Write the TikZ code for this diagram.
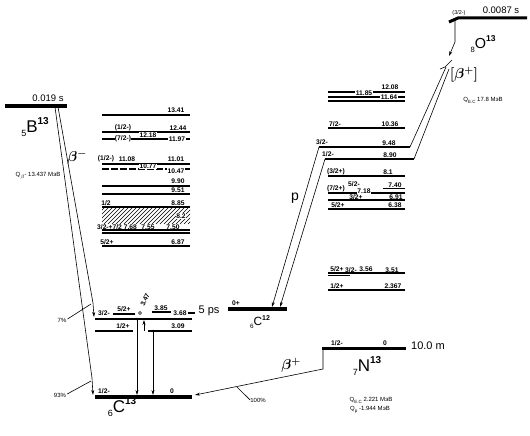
\documentclass[tikz,border=0pt]{standalone}
\usepackage{fontspec}
\setmainfont{Liberation Sans}
\usetikzlibrary{arrows.meta}
\newcommand{\nucl}[3]{{\fontsize{9}{9}\selectfont\raisebox{-4pt}{#1}}{\fontsize{17}{17}\selectfont #2}{\fontsize{10}{10}\selectfont\raisebox{8pt}{\bfseries #3}}}
\newcommand{\qsub}[1]{\raisebox{-2pt}{\fontsize{4.5}{5}\selectfont #1}}
\begin{document}
\begin{tikzpicture}[x=1pt,y=-1pt,
  lv/.style={line width=1.1pt},
  gsbar/.style={line width=3.5pt},
  lb/.style={font=\bfseries\fontsize{6.7}{7}\selectfont, inner sep=0.4pt},
  lbw/.style={lb, fill=white},
  sm/.style={font=\fontsize{6}{7}\selectfont, inner sep=0pt},
  big/.style={font=\fontsize{9.5}{10}\selectfont, inner sep=0pt},
  mid/.style={font=\fontsize{11}{12}\selectfont, inner sep=0pt},
  greek/.style={font=\fontsize{14}{14}\selectfont\boldmath, inner sep=0pt},
  tr/.style={line width=0.6pt},
  arr/.style={tr, -{Stealth[length=5pt,width=3pt]}}]
\useasboundingbox (0,0) rectangle (530,436);

% ---------- 5B13 ----------
\draw[gsbar] (5,106) -- (67,106);
\node[big] (tB) at (48,98) {0.019 s};
\node[inner sep=0] (nB) at (35,127) {\nucl{5}{B}{13}};
\node[sm] (qB) at (38,176) {Q\qsub{$\beta$}- 13.437 МэВ};
\node[greek] (bm) at (77,157) {$\beta^-$};
\coordinate (b1) at (55,107); \coordinate (b1m) at (92,378); \coordinate (b1e) at (93,395);
\coordinate (b2) at (58,107); \coordinate (b2m) at (93,303); \coordinate (b2e) at (94,317);
\draw[arr] (b1) -- (b1m) -- (b1e);
\draw[arr] (b2) -- (b2m) -- (b2e);
\node[sm] (p7) at (62,320) {7\%};
\node[sm] (p93) at (60,395) {93\%};
\coordinate (t7) at (91,304); \coordinate (t93) at (91,381);
\draw[tr] (p7.east) ++(1,-1) -- (t7);
\draw[tr] (p93.east) ++(1,-1) -- (t93);

% ---------- 13C ----------
\draw[gsbar] (95,397) -- (192,397);
\node[lb] (c0a) at (104,391) {1/2-};
\node[lb] (c0b) at (172,391) {0};
\node[inner sep=0] (nC13) at (122,407) {\nucl{6}{C}{13}};

\draw[lv] (95,319) -- (192,319);
\node[lb] (c1a) at (104,313) {3/2-};
\node[lb] (c1b) at (124,309.5) {5/2+};
\draw[lv] (113,314) -- (135,314);
\node[lb] (c1c) at (161,308) {3.85};
\draw[lv] (152,312) -- (171,312);
\node[lb] (c1d) at (180,313) {3.68};
\draw[lv] (188,313) -- (195,313);
\node[mid] (ps) at (209,311) {5 ps};
\node[lb, rotate=65] (c1e) at (145,300) {3.47};
\draw[tr] (140,313) circle (1.5);

\draw[lv] (95,331) -- (133,331);
\draw[lv] (148,331) -- (192,331);
\node[lb] (c2a) at (123,326) {1/2+};
\node[lb] (c2b) at (178,326) {3.09};

\coordinate (g1t) at (137,319); \coordinate (g1b) at (137,395);
\coordinate (g2t) at (153,331); \coordinate (g2b) at (153,395);
\coordinate (g3t) at (144,331); \coordinate (g3b) at (144,320);
\draw[arr] (g1t) -- (g1b); \fill (g1t) circle (1.3);
\draw[arr] (g2t) -- (g2b); \fill (g2t) circle (1.3);
\draw[arr] (g3t) -- (g3b);

% upper 13C levels
\draw[lv] (102,115) -- (190,115);
\node[lb] (u1) at (176,110) {13.41};
\draw[lv] (102,132) -- (190,132);
\draw[lv] (102,139) -- (190,139);
\node[lb] (u2a) at (123,128) {(1/2-)};
\node[lb] (u2b) at (178,128) {12.44};
\node[lbw] (u2c) at (148,135) {12.18};
\node[lbw] (u3a) at (123,139) {(7/2-)};
\node[lbw] (u3b) at (177,139) {11.97};
\draw[lv] (102,164) -- (190,164);
\draw[lv, dash pattern=on 7pt off 2pt] (102,169) -- (190,169);
\node[lb] (u4a) at (106,159) {(1/2-)};
\node[lb] (u4b) at (127,159) {11.08};
\node[lb] (u4c) at (176,159) {11.01};
\node[lbw] (u4d) at (148,166.5) {10.77};
\node[lbw] (u5) at (176,171) {10.47};
\draw[lv] (102,186) -- (190,186);
\node[lb] (u6) at (178,181) {9.90};
\draw[lv] (102,194) -- (190,194);
\node[lb] (u7) at (178,190) {9.51};
\draw[lv] (102,207) -- (190,207);
\node[lb] (u8a) at (106,203) {1/2};
\node[lb] (u8b) at (178,203) {8.85};
\begin{scope}
\clip (102,208) rectangle (190,224);
\foreach \i in {0,4,...,108} \draw[line width=0.6pt] (84+\i,224) -- (100+\i,208);
\end{scope}
\node[lbw] (u9) at (181,216) {8.2};
\node[lb] (u10a) at (117,227) {3/2-+7/2 7.68};
\node[lb] (u10b) at (148,227) {7.55};
\node[lb] (u10c) at (173,227) {7.50};
\draw[lv] (102,230) -- (190,230);
\draw[lv] (102,233) -- (190,233);
\draw[lv] (102,246) -- (190,246);
\node[lb] (u11a) at (107,242) {5/2+};
\node[lb] (u11b) at (178,242) {6.87};

% ---------- 12C ----------
\draw[gsbar] (228,309) -- (287,309);
\node[lb] (c12a) at (236,303) {0+};
\node[inner sep=0, scale=0.7] (nC12) at (260,322) {\nucl{6}{C}{12}};
\node[inner sep=0] (pp) at (295,198) {\fontsize{14}{14}\selectfont p};

% ---------- 13N ----------
\draw[line width=3pt] (322,348) -- (406,348);
\node[lb] (n0a) at (337,343) {1/2-};
\node[lb] (n0b) at (385,343) {0};
\node[mid] (tm) at (428,346) {10.0 m};
\node[inner sep=0] (nN) at (367,366) {\nucl{7}{N}{13}};
\node[sm] (qN1) at (371,400) {Q\qsub{E.C} 2.221 МэВ};
\node[sm] (qN2) at (370,410) {Q\qsub{p} -1.944 МэВ};

\draw[lv] (328,92) -- (405,92);
\draw[lv] (328,97) -- (405,97);
\draw[lv] (328,101) -- (405,101);
\node[lb] (m1a) at (390,87.5) {12.08};
\node[lbw] (m1b) at (364,93) {11.85};
\node[lbw] (m1c) at (389,97.5) {11.64};
\draw[lv] (328,128) -- (405,128);
\node[lb] (m2a) at (335,124) {7/2-};
\node[lb] (m2b) at (390,124) {10.36};
\node[lb] (m3a) at (322,142) {3/2-};
\node[lb] (m3b) at (389,143) {9.48};
\node[lb] (m4a) at (328,154) {1/2-};
\node[lb] (m4b) at (390,155) {8.90};
\coordinate (p1t) at (319,147); \coordinate (p1b) at (272,307);
\coordinate (p2t) at (325,159); \coordinate (p2b) at (280,307);
\coordinate (k1) at (410,147); \coordinate (k2) at (414,159);
\coordinate (o1) at (446,67); \coordinate (o2) at (449,69);
\draw[lv] (p1t) -- (k1); \draw[tr] (k1) -- (o1);
\draw[lv] (p2t) -- (k2); \draw[tr] (k2) -- (o2);
\draw[arr] (p1t) -- (p1b);
\draw[arr] (p2t) -- (p2b);
\draw[lv] (328,176) -- (405,176);
\node[lb] (m5a) at (336,172) {(3/2+)};
\node[lb] (m5b) at (388,172) {8.1};
\draw[lv] (383,188.5) -- (405,188.5);
\draw[lv] (328,193) -- (405,193);
\draw[lv] (328,200) -- (405,200);
\node[lb] (m6a) at (354,184) {5/2-};
\node[lb] (m6b) at (395,185) {7.40};
\node[lb] (m6c) at (336,189) {(7/2+)};
\node[lbw] (m6d) at (364,191) {7.18};
\node[lb] (m6e) at (356,197) {3/2+};
\node[lb] (m6f) at (396,197) {6.91};
\draw[lv] (328,209) -- (405,209);
\node[lb] (m7a) at (338,205) {5/2+};
\node[lb] (m7b) at (395,205) {6.38};
\draw[lv] (328,273) -- (405,273);
\draw[lv] (328,275.5) -- (350,275.5);
\node[lb] (m8a) at (337,269) {5/2+};
\node[lb] (m8b) at (351,270) {3/2-};
\node[lb] (m8c) at (366,269) {3.56};
\node[lb] (m8d) at (392,270) {3.51};
\draw[lv] (328,290) -- (405,290);
\node[lb] (m9a) at (337,286) {1/2+};
\node[lb] (m9b) at (393,286) {2.367};

% 13N -> 13C beta+
\coordinate (n1) at (323,348); \coordinate (n2) at (323,369); \coordinate (n3) at (195,395);
\draw[arr] (n1) -- (n2) -- (n3);
\node[greek] (bp) at (291,365) {$\beta^+$};
\node[sm] (p100) at (258,400) {100\%};
\coordinate (t100) at (237,387);
\draw[tr] (t100) -- (p100.west);

% ---------- 8O13 ----------
\draw[line width=3pt] (449,22) -- (458,18) -- (527,18);
\node[sm, font=\fontsize{5.5}{6}\selectfont] (o0) at (459,13) {(3/2-)};
\node[big] (to) at (501,10) {0.0087 s};
\node[inner sep=0, scale=0.85] (nO) at (483,44) {\nucl{8}{O}{13}};
\node[greek] (bo) at (464,75) {$\left[\beta^+\right]$};
\node[sm] (qO) at (483,100) {Q\qsub{E.C} 17.8 МэВ};
\coordinate (oa) at (455,20); \coordinate (ob) at (455,42); \coordinate (oc) at (449,56);
\draw[arr] (oa) -- (ob) -- (oc);
\draw[tr] (440,69) -- (445,67) -- (452,60);
\end{tikzpicture}
\end{document}
